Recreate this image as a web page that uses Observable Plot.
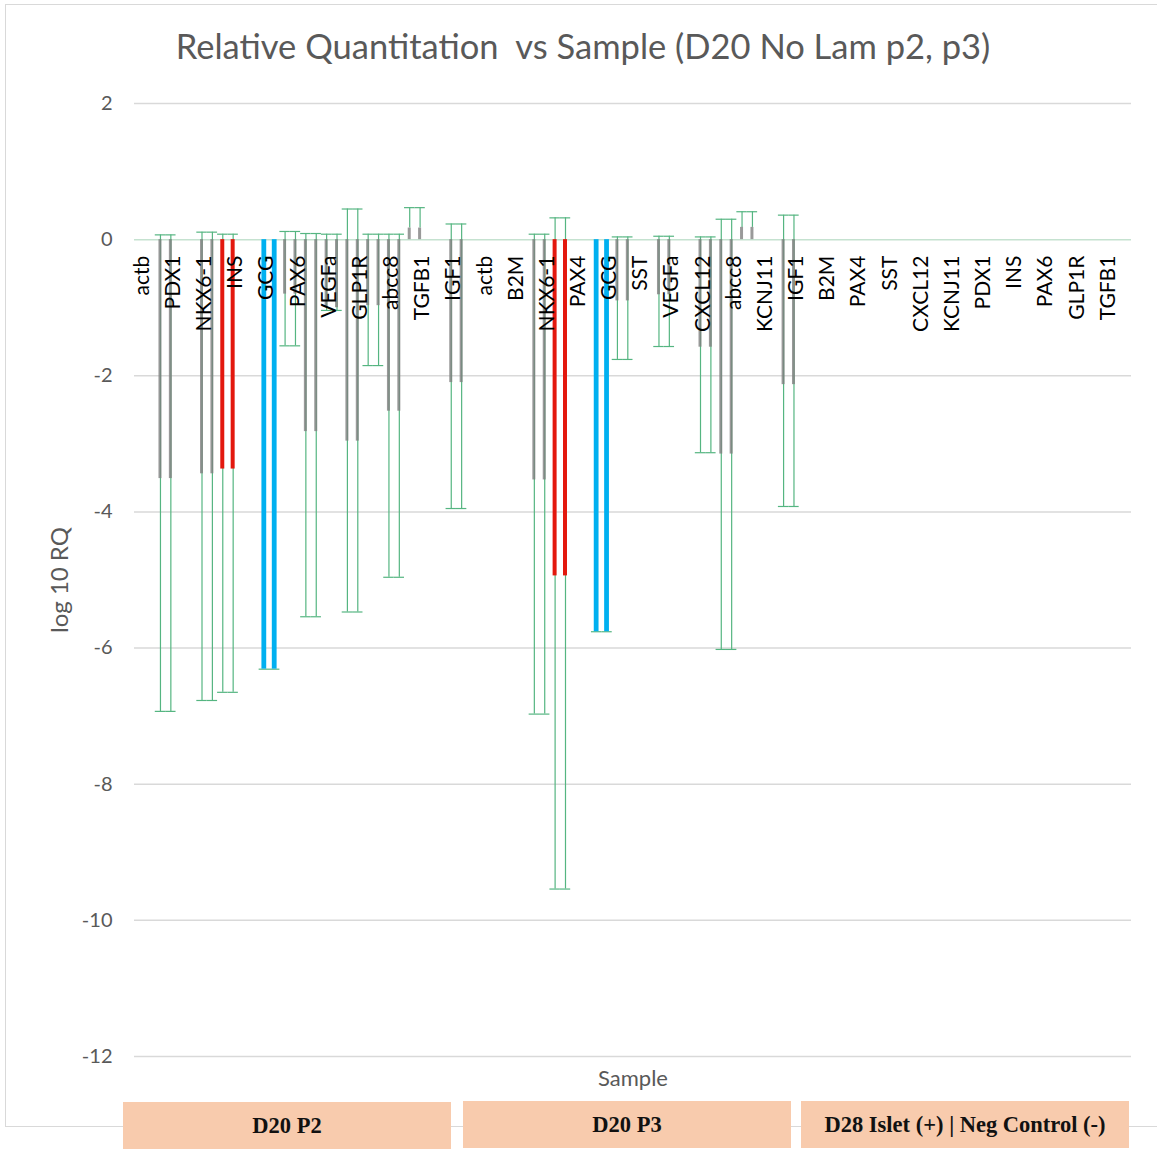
<!DOCTYPE html>
<html>
<head>
<meta charset="utf-8">
<script src="https://cdn.jsdelivr.net/npm/d3@7"></script>
<script src="https://cdn.jsdelivr.net/npm/@observablehq/plot@0.6"></script>
<style>
  html, body { margin: 0; padding: 0; background: #fff; }
  #wrap { position: relative; width: 1157px; height: 1150px; overflow: hidden; font-family: Lato, "Open Sans", sans-serif; }
  #frame { position: absolute; left: 5px; top: 4px; width: 1160px; height: 1123px; border: 1.5px solid #d9d9d9; box-sizing: border-box; }
  #title { position: absolute; left: 0; width: 1166px; top: 25px; text-align: center; font-size: 34.5px; color: #595959; white-space: pre; }
  #chart { position: absolute; left: 0; top: 0; }
  .box { position: absolute; height: 47px; background: #f8cbad; display: flex; align-items: center; justify-content: center;
         font-family: "Liberation Serif", serif; font-weight: bold; font-size: 22.5px; color: #111; }
</style>
</head>
<body>
<div id="wrap">
  <div id="frame"></div>
  <div id="chart"></div>
  <div id="title">Relative Quantitation  vs Sample (D20 No Lam p2, p3)</div>
</div>
<script>
const N = null;
const categories = ["actb","PDX1","NKX6-1","INS","GCG","PAX6","VEGFa","GLP1R","abcc8","TGFB1","IGF1",
  "actb","B2M","NKX6-1","PAX4","GCG","SST","VEGFa","CXCL12","abcc8","KCNJ11","IGF1",
  "B2M","PAX4","SST","CXCL12","KCNJ11","PDX1","INS","PAX6","GLP1R","TGFB1"];
const series = ["s1","s2","s3"];
const groups = ["D20 P2","D20 P3","D28 Islet (+) | Neg Control (-)"];
const yTicks = [-12,-10,-8,-6,-4,-2,0,2];

// log10 RQ per category for the three series
const val_s1 = [N,-3.51,-3.44,-3.37,-6.31,-0.80,-1.00,-2.96,-2.52,0.17,-2.10,N,N,-3.53,N,-5.76,N,-0.81,-1.58,-3.15,N,-2.13,N,N,N,N,N,N,N,N,N,N];
const val_s2 = [N,N,-3.44,N,-6.31,-2.82,-1.00,-0.97,-2.52,N,-2.10,N,N,-4.94,N,-0.90,N,N,-1.58,0.18,N,N,N,N,N,N,N,N,N,N,N,N];
const val_s3 = [-3.51,N,-3.37,N,-0.80,-2.82,-2.96,-0.97,0.17,N,N,N,-3.53,-4.94,-5.76,-0.90,-0.81,N,-3.15,0.18,-2.13,N,N,N,N,N,N,N,N,N,N,N];
// error bar lower ends
const lo_s1 = [N,-6.93,-6.77,-6.65,-6.31,-1.56,-1.04,-5.47,-4.96,N,-3.95,N,N,-6.97,N,-5.76,N,-1.57,-3.13,-6.02,N,-3.92,N,N,N,N,N,N,N,N,N,N];
const lo_s2 = [N,N,-6.77,N,-6.31,-5.54,-1.04,-1.85,-4.96,N,-3.95,N,N,-9.54,N,-1.76,N,N,-3.13,N,N,N,N,N,N,N,N,N,N,N,N,N];
const lo_s3 = [-6.93,N,-6.65,N,-1.56,-5.54,-5.47,-1.85,N,N,N,N,-6.97,-9.54,-5.76,-1.76,-1.57,N,-6.02,N,-3.92,N,N,N,N,N,N,N,N,N,N,N];
// error bar upper ends
const hi_s1 = [N,0.07,0.11,0.08,N,0.12,0.08,0.45,0.08,0.47,0.23,N,N,0.08,N,N,N,0.05,0.04,0.30,N,0.36,N,N,N,N,N,N,N,N,N,N];
const hi_s2 = [N,N,0.11,N,N,0.09,0.08,0.08,0.08,N,0.23,N,N,0.32,N,0.04,N,N,0.04,0.41,N,N,N,N,N,N,N,N,N,N,N,N];
const hi_s3 = [0.07,N,0.08,N,0.12,0.09,0.45,0.08,0.47,N,N,N,0.08,0.32,N,0.04,0.05,N,0.30,0.41,0.36,N,N,N,N,N,N,N,N,N,N,N];
// highlighted genes
const kind_s1 = ["","","","INS","GCG","","","","","","","","","","","GCG","","","","","","","","","","","","","","","",""];
const kind_s2 = ["","","","","GCG","","","","","","","","","INS","","","","","","","","","","","","","","","","","",""];
const kind_s3 = ["","","INS","","","","","","","","","","","INS","GCG","","","","","","","","","","","","","","","","",""];

const vals = {s1: val_s1, s2: val_s2, s3: val_s3};
const los = {s1: lo_s1, s2: lo_s2, s3: lo_s3};
const his = {s1: hi_s1, s2: hi_s2, s3: hi_s3};
const kinds = {s1: kind_s1, s2: kind_s2, s3: kind_s3};

const rows = [];
categories.forEach((c, i) => series.forEach(s => {
  const v = vals[s][i];
  if (v == null) return;
  rows.push({key: i + "|" + s, category: c, series: s, value: v, lo: los[s][i], hi: his[s][i], kind: kinds[s][i] || "other"});
}));
const xDomain = categories.flatMap((c, i) => series.map(s => i + "|" + s));
const labelRows = categories.map((c, i) => ({key: i + "|s2", label: c}));

const green = "#55b581";
const W = 1157, H = 1100;

const chart = Plot.plot({
  width: W, height: H,
  marginLeft: 134, marginRight: 26, marginTop: 103, marginBottom: 44,
  style: {fontFamily: "Lato, 'Open Sans', sans-serif", fontSize: "20px", color: "#595959", background: "transparent"},
  x: {domain: xDomain, padding: 0, axis: null},
  y: {domain: [-12, 2], ticks: yTicks, tickSize: 0, tickPadding: 22, label: null, tickFormat: d => d < 0 ? "-" + Math.abs(d) : String(d)},
  marks: [
    Plot.ruleY(yTicks.filter(d => d !== 0), {stroke: "#d9d9d9", strokeWidth: 1.5}),
    Plot.ruleY([0], {stroke: "#c5e2d0", strokeWidth: 1.5}),
    Plot.ruleX(rows, {x: "key", y1: d => d.lo ?? d.value, y2: d => d.hi ?? d.value, stroke: green, strokeWidth: 1.2}),
    Plot.tickY(rows.filter(d => d.lo != null), {x: "key", y: "lo", stroke: green, strokeWidth: 1.2}),
    Plot.tickY(rows.filter(d => d.hi != null), {x: "key", y: "hi", stroke: green, strokeWidth: 1.2}),
    Plot.barY(rows.filter(d => d.kind === "other"), {x: "key", y1: 0, y2: "value", fill: "#7f7f7f", fillOpacity: 0.8, insetLeft: 3.7, insetRight: 3.7}),
    Plot.barY(rows.filter(d => d.kind === "INS"), {x: "key", y1: 0, y2: "value", fill: "#e3180e", insetLeft: 3.2, insetRight: 3.2}),
    Plot.barY(rows.filter(d => d.kind === "GCG"), {x: "key", y1: 0, y2: "value", fill: "#00b0f0", insetLeft: 2.8, insetRight: 2.8}),
    Plot.text(labelRows, {x: "key", y: 0, text: "label", rotate: -90, textAnchor: "end", dy: 16, dx: -8, fontSize: 21, fill: "#000"}),
    Plot.text(["log 10 RQ"], {frameAnchor: "left", textAnchor: "middle", lineAnchor: "middle", rotate: -90, dx: -74, fontSize: 24, fill: "#595959"}),
    Plot.text(["Sample"], {frameAnchor: "bottom", lineAnchor: "middle", dy: 22, fontSize: 22, fill: "#595959"})
  ]
});
document.getElementById("chart").appendChild(chart);

const boxPos = [[123, 1102, 328], [463, 1101, 328], [801, 1101, 328]];
groups.forEach((g, i) => {
  const d = document.createElement("div");
  d.className = "box";
  d.style.left = boxPos[i][0] + "px";
  d.style.top = boxPos[i][1] + "px";
  d.style.width = boxPos[i][2] + "px";
  d.textContent = g;
  document.getElementById("wrap").appendChild(d);
});
</script>
</body>
</html>
